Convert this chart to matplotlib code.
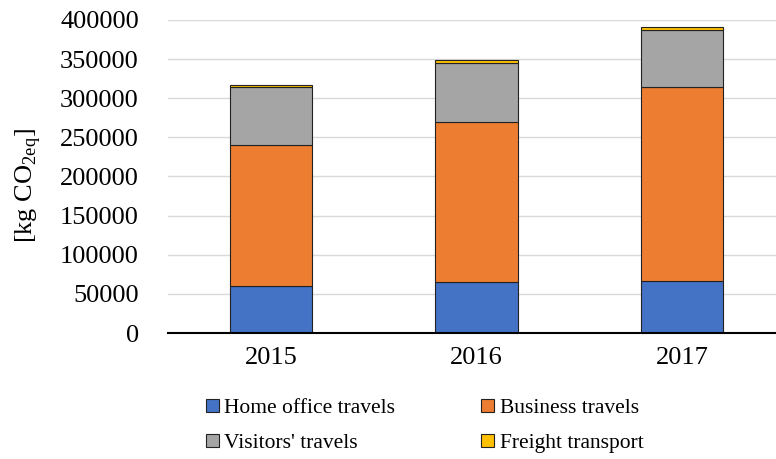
import numpy as np
import matplotlib
matplotlib.use('Agg')
import matplotlib.pyplot as plt

plt.rcParams['font.family'] = 'Liberation Serif'
plt.rcParams['mathtext.fontset'] = 'custom'
plt.rcParams['mathtext.rm'] = 'Liberation Serif'

# data
years = ['2015', '2016', '2017']
home_office = [60000, 65000, 67000]
business = [180000, 205000, 248000]
visitors = [74000, 75000, 72000]
freight = [3000, 4000, 4000]

series_names = ['Home office travels', 'Business travels', "Visitors' travels", 'Freight transport']
colors = ['#4472C4', '#ED7D31', '#A5A5A5', '#FFC000']

fig = plt.figure(figsize=(7.76, 4.59), dpi=100)
ax = fig.add_axes([168/776, 126/459, 1 - 168/776, 313/459])

x = np.arange(len(years))
bottom = np.zeros(len(years))
bars = []
for vals, name, c in zip([home_office, business, visitors, freight], series_names, colors):
    b = ax.bar(x, vals, width=0.4, bottom=bottom, color=c, edgecolor='#222222',
               linewidth=0.8, label=name, zorder=3)
    bars.append(b)
    bottom += np.array(vals)

ax.set_ylim(0, 400000)
ax.set_yticks(np.arange(0, 400001, 50000))
ax.set_xlim(-0.5, 2.456)
ax.set_xticks(x)
ax.set_xticklabels(years)
ax.grid(axis='y', color='#d9d9d9', linewidth=1, zorder=0)
for s in ['top', 'right', 'left']:
    ax.spines[s].set_visible(False)
ax.spines['bottom'].set_linewidth(1.5)
ax.spines['bottom'].set_zorder(4)
ax.tick_params(axis='both', length=0, labelsize=19)
ax.tick_params(axis='y', pad=21)
ax.tick_params(axis='x', pad=10)
ax.set_ylabel(r'[kg CO$_{\rm 2eq}$]', fontsize=19)
ax.yaxis.set_label_coords(-0.205, 0.47)

# legend filled row by row
order = [0, 2, 1, 3]
fig.legend([bars[i] for i in order], [series_names[i] for i in order],
           loc='lower left', bbox_to_anchor=(193/776, -0.015), ncol=2, frameon=False,
           fontsize=15.5, handlelength=0.6, handleheight=0.6, handletextpad=0.25,
           columnspacing=4.0, labelspacing=0.72, borderaxespad=0.2)

fig.savefig('out.png', dpi=100)
